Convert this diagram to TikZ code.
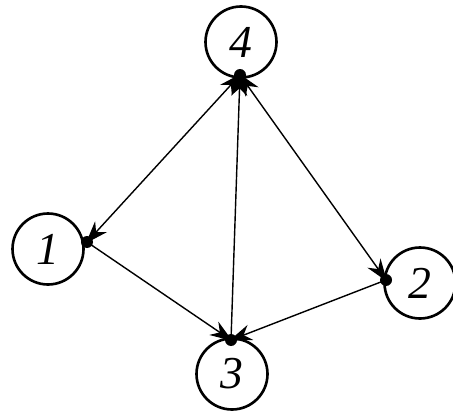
\documentclass[tikz,border=0pt]{standalone}
\usepackage{fontspec}
\setmainfont{Liberation Serif}
\usetikzlibrary{arrows.meta}
\begin{document}
\begin{tikzpicture}[x=0.02cm,y=-0.02cm,
  vert/.style={circle,draw,line width=1.5pt,minimum size=1.42cm,inner sep=0pt,
    font=\fontsize{26}{28}\selectfont\itshape},
  port/.style={circle,fill,inner sep=0pt,minimum size=0.24cm},
  edge/.style={line width=0.8pt,shorten <=-1pt,shorten >=-1pt},
  tip/.style={-{Stealth[length=4.5mm,width=3.2mm]}},
  twotip/.style={{Stealth[length=4.5mm,width=3.2mm]}-{Stealth[length=4.5mm,width=3.2mm]}}]
\useasboundingbox (0,0) rectangle (453,412);
\node[vert] (n4) at (241,42) {4};
\node[vert] (n1) at (48,249) {1};
\node[vert] (n2) at (420,283) {2};
\node[vert] (n3) at (232,374) {3};
\node[port] (p4) at (240,75) {};
\node[port] (p1) at (87,242) {};
\node[port] (p2) at (386,280) {};
\node[port] (p3) at (231,340) {};
\draw[edge,twotip] (p1.center) -- (p4.center);
\draw[edge,twotip] (p2.center) -- (p4.center);
\draw[edge,tip] (p3.center) -- (p4.center);
\draw[edge,tip] (p1.center) -- (p3.center);
\draw[edge,tip] (p2.center) -- (p3.center);
\end{tikzpicture}
\end{document}
